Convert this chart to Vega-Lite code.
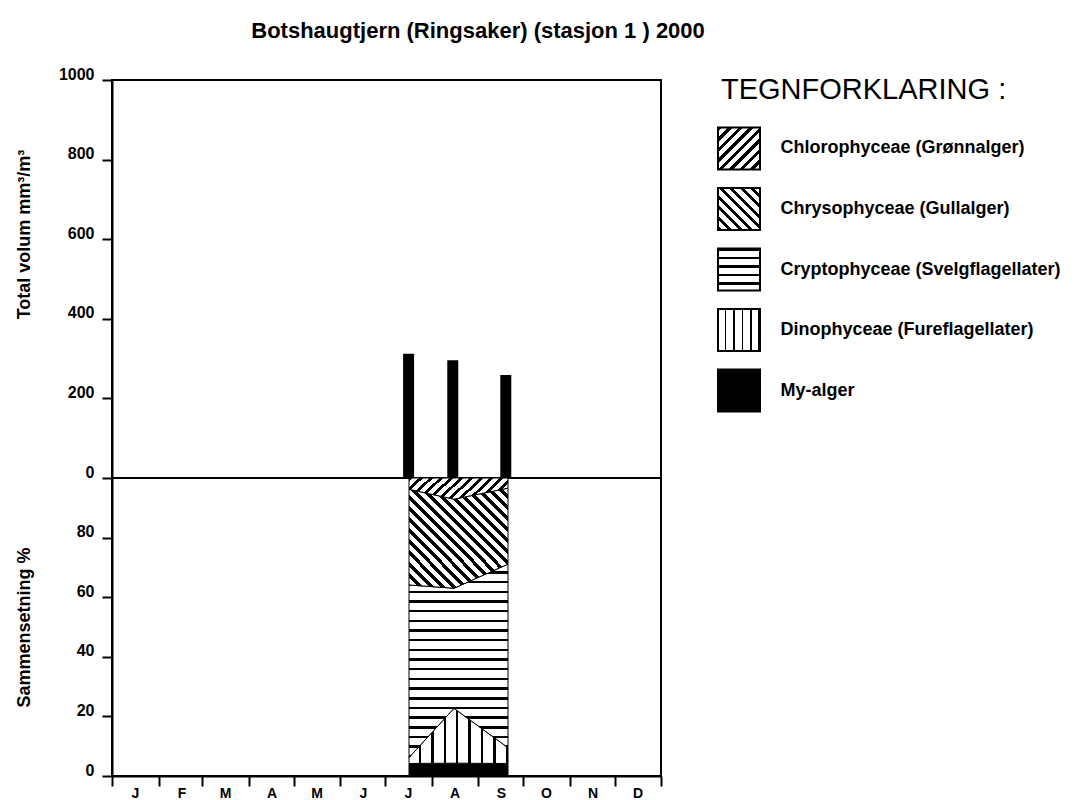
{
  "$schema": "https://vega.github.io/schema/vega-lite/v6.json",
  "padding": {"left": 14, "top": 20, "right": 5, "bottom": 0},
  "title": {"text": "Botshaugtjern (Ringsaker) (stasjon 1 ) 2000", "fontSize": 22, "fontWeight": "bold", "font": "Liberation Sans", "color": "black", "anchor": "middle", "offset": 22, "dx": -59},
  "config": {
    "font": "Liberation Sans",
    "view": {"stroke": "black", "strokeWidth": 2},
    "axis": {"labelFont": "Liberation Sans", "labelFontSize": 16, "labelFontWeight": "bold", "labelColor": "black", "titleFont": "Liberation Sans", "titleFontSize": 18, "titleFontWeight": "bold", "titleColor": "black", "domainColor": "black", "domainWidth": 2, "tickColor": "black", "tickWidth": 2, "tickSize": 10, "grid": false}
  },
  "datasets": {
    "total": [
      {"date": "2000-07-17", "total": 312},
      {"date": "2000-08-16", "total": 296},
      {"date": "2000-09-21", "total": 259}
    ],
    "comp": [
      {"date": "2000-07-17", "group": "My-alger", "k": 1, "pct": 4.2},
      {"date": "2000-07-17", "group": "Dinophyceae (Fureflagellater)", "k": 2, "pct": 2.0},
      {"date": "2000-07-17", "group": "Cryptophyceae (Svelgflagellater)", "k": 3, "pct": 57.9},
      {"date": "2000-07-17", "group": "Chrysophyceae (Gullalger)", "k": 4, "pct": 32.1},
      {"date": "2000-07-17", "group": "Chlorophyceae (Grønnalger)", "k": 5, "pct": 3.8},
      {"date": "2000-08-16", "group": "My-alger", "k": 1, "pct": 4.3},
      {"date": "2000-08-16", "group": "Dinophyceae (Fureflagellater)", "k": 2, "pct": 18.4},
      {"date": "2000-08-16", "group": "Cryptophyceae (Svelgflagellater)", "k": 3, "pct": 40.3},
      {"date": "2000-08-16", "group": "Chrysophyceae (Gullalger)", "k": 4, "pct": 29.9},
      {"date": "2000-08-16", "group": "Chlorophyceae (Grønnalger)", "k": 5, "pct": 7.1},
      {"date": "2000-09-21", "group": "My-alger", "k": 1, "pct": 4.2},
      {"date": "2000-09-21", "group": "Dinophyceae (Fureflagellater)", "k": 2, "pct": 5.3},
      {"date": "2000-09-21", "group": "Cryptophyceae (Svelgflagellater)", "k": 3, "pct": 61.6},
      {"date": "2000-09-21", "group": "Chrysophyceae (Gullalger)", "k": 4, "pct": 25.5},
      {"date": "2000-09-21", "group": "Chlorophyceae (Grønnalger)", "k": 5, "pct": 3.4}
    ],
    "legend": [
      {"group": "Chlorophyceae (Grønnalger)"},
      {"group": "Chrysophyceae (Gullalger)"},
      {"group": "Cryptophyceae (Svelgflagellater)"},
      {"group": "Dinophyceae (Fureflagellater)"},
      {"group": "My-alger"}
    ]
  },
  "spacing": 29,
  "hconcat": [
    {
      "spacing": 0,
      "bounds": "flush",
      "vconcat": [
        {
          "width": 549,
          "height": 398,
          "data": {"name": "total"},
          "mark": {"type": "bar", "color": "black", "width": 11},
          "encoding": {
            "x": {"field": "date", "type": "temporal", "scale": {"type": "utc", "domain": [{"year": 2000, "month": 1, "date": 1, "utc": true}, {"year": 2001, "month": 1, "date": 1, "utc": true}]}, "axis": null},
            "y": {"field": "total", "type": "quantitative", "scale": {"domain": [0, 1000], "nice": false}, "axis": {"values": [0, 200, 400, 600, 800, 1000], "format": "d", "title": "Total volum mm³/m³", "titleY": 154, "minExtent": 60, "maxExtent": 60, "labelPadding": 8, "titlePadding": 19, "labelBaseline": "alphabetic", "labelOffset": -1}}
          }
        },
        {
          "width": 549,
          "height": 298,
          "data": {"name": "comp"},
          "transform": [{"stack": "pct", "groupby": ["date"], "sort": [{"field": "k", "order": "ascending"}], "as": ["lo", "hi"]}],
          "encoding": {
            "x": {"field": "date", "type": "temporal", "scale": {"type": "utc", "domain": [{"year": 2000, "month": 1, "date": 1, "utc": true}, {"year": 2001, "month": 1, "date": 1, "utc": true}]}, "axis": {"tickCount": {"interval": "month", "step": 1}, "labelExpr": "utcyear(datum.value) > 2000 ? '' : slice(utcFormat(datum.value, '%b'), 0, 1)", "labelOffset": 23, "labelPadding": 0, "labelFontSize": 14, "title": null, "labelOverlap": false, "labelFlush": false, "labelBound": false}},
            "y": {"field": "lo", "type": "quantitative", "scale": {"domain": [0, 100], "nice": false}, "axis": {"values": [0, 20, 40, 60, 80], "title": "Sammensetning %", "minExtent": 60, "maxExtent": 60, "labelPadding": 8, "titlePadding": 19, "labelBaseline": "alphabetic", "labelOffset": -1}},
            "y2": {"field": "hi"}
          },
          "layer": [
            {
              "transform": [{"filter": {"field": "group", "equal": "My-alger"}}],
              "mark": {"type": "area", "fill": "#000", "stroke": "#000", "strokeWidth": 1, "opacity": 1}
            },
            {
              "transform": [{"filter": {"field": "group", "equal": "Dinophyceae (Fureflagellater)"}}],
              "mark": {"type": "area", "stroke": "#000", "strokeWidth": 1, "opacity": 1, "fill": {"gradient": "linear", "x1": 0, "y1": 0, "x2": 1, "y2": 0, "stops": [
                {"offset": 0, "color": "#fff"}, {"offset": 0.1, "color": "#fff"}, {"offset": 0.1, "color": "#000"}, {"offset": 0.125, "color": "#000"},
                {"offset": 0.125, "color": "#fff"}, {"offset": 0.225, "color": "#fff"}, {"offset": 0.225, "color": "#000"}, {"offset": 0.25, "color": "#000"},
                {"offset": 0.25, "color": "#fff"}, {"offset": 0.35, "color": "#fff"}, {"offset": 0.35, "color": "#000"}, {"offset": 0.375, "color": "#000"},
                {"offset": 0.375, "color": "#fff"}, {"offset": 0.475, "color": "#fff"}, {"offset": 0.475, "color": "#000"}, {"offset": 0.5, "color": "#000"},
                {"offset": 0.5, "color": "#fff"}, {"offset": 0.6, "color": "#fff"}, {"offset": 0.6, "color": "#000"}, {"offset": 0.625, "color": "#000"},
                {"offset": 0.625, "color": "#fff"}, {"offset": 0.725, "color": "#fff"}, {"offset": 0.725, "color": "#000"}, {"offset": 0.75, "color": "#000"},
                {"offset": 0.75, "color": "#fff"}, {"offset": 0.85, "color": "#fff"}, {"offset": 0.85, "color": "#000"}, {"offset": 0.875, "color": "#000"},
                {"offset": 0.875, "color": "#fff"}, {"offset": 0.975, "color": "#fff"}, {"offset": 0.975, "color": "#000"}, {"offset": 1, "color": "#000"}
              ]}}
            },
            {
              "transform": [{"filter": {"field": "group", "equal": "Cryptophyceae (Svelgflagellater)"}}],
              "mark": {"type": "area", "stroke": "#000", "strokeWidth": 1, "opacity": 1, "fill": {"gradient": "linear", "x1": 0, "y1": 0, "x2": 0, "y2": 1, "stops": [
                {"offset": 0, "color": "#fff"}, {"offset": 0.0375, "color": "#fff"}, {"offset": 0.0375, "color": "#000"}, {"offset": 0.05, "color": "#000"},
                {"offset": 0.05, "color": "#fff"}, {"offset": 0.0875, "color": "#fff"}, {"offset": 0.0875, "color": "#000"}, {"offset": 0.1, "color": "#000"},
                {"offset": 0.1, "color": "#fff"}, {"offset": 0.1375, "color": "#fff"}, {"offset": 0.1375, "color": "#000"}, {"offset": 0.15, "color": "#000"},
                {"offset": 0.15, "color": "#fff"}, {"offset": 0.1875, "color": "#fff"}, {"offset": 0.1875, "color": "#000"}, {"offset": 0.2, "color": "#000"},
                {"offset": 0.2, "color": "#fff"}, {"offset": 0.2375, "color": "#fff"}, {"offset": 0.2375, "color": "#000"}, {"offset": 0.25, "color": "#000"},
                {"offset": 0.25, "color": "#fff"}, {"offset": 0.2875, "color": "#fff"}, {"offset": 0.2875, "color": "#000"}, {"offset": 0.3, "color": "#000"},
                {"offset": 0.3, "color": "#fff"}, {"offset": 0.3375, "color": "#fff"}, {"offset": 0.3375, "color": "#000"}, {"offset": 0.35, "color": "#000"},
                {"offset": 0.35, "color": "#fff"}, {"offset": 0.3875, "color": "#fff"}, {"offset": 0.3875, "color": "#000"}, {"offset": 0.4, "color": "#000"},
                {"offset": 0.4, "color": "#fff"}, {"offset": 0.4375, "color": "#fff"}, {"offset": 0.4375, "color": "#000"}, {"offset": 0.45, "color": "#000"},
                {"offset": 0.45, "color": "#fff"}, {"offset": 0.4875, "color": "#fff"}, {"offset": 0.4875, "color": "#000"}, {"offset": 0.5, "color": "#000"},
                {"offset": 0.5, "color": "#fff"}, {"offset": 0.5375, "color": "#fff"}, {"offset": 0.5375, "color": "#000"}, {"offset": 0.55, "color": "#000"},
                {"offset": 0.55, "color": "#fff"}, {"offset": 0.5875, "color": "#fff"}, {"offset": 0.5875, "color": "#000"}, {"offset": 0.6, "color": "#000"},
                {"offset": 0.6, "color": "#fff"}, {"offset": 0.6375, "color": "#fff"}, {"offset": 0.6375, "color": "#000"}, {"offset": 0.65, "color": "#000"},
                {"offset": 0.65, "color": "#fff"}, {"offset": 0.6875, "color": "#fff"}, {"offset": 0.6875, "color": "#000"}, {"offset": 0.7, "color": "#000"},
                {"offset": 0.7, "color": "#fff"}, {"offset": 0.7375, "color": "#fff"}, {"offset": 0.7375, "color": "#000"}, {"offset": 0.75, "color": "#000"},
                {"offset": 0.75, "color": "#fff"}, {"offset": 0.7875, "color": "#fff"}, {"offset": 0.7875, "color": "#000"}, {"offset": 0.8, "color": "#000"},
                {"offset": 0.8, "color": "#fff"}, {"offset": 0.8375, "color": "#fff"}, {"offset": 0.8375, "color": "#000"}, {"offset": 0.85, "color": "#000"},
                {"offset": 0.85, "color": "#fff"}, {"offset": 0.8875, "color": "#fff"}, {"offset": 0.8875, "color": "#000"}, {"offset": 0.9, "color": "#000"},
                {"offset": 0.9, "color": "#fff"}, {"offset": 0.9375, "color": "#fff"}, {"offset": 0.9375, "color": "#000"}, {"offset": 0.95, "color": "#000"},
                {"offset": 0.95, "color": "#fff"}, {"offset": 0.9875, "color": "#fff"}, {"offset": 0.9875, "color": "#000"}, {"offset": 1, "color": "#000"}
              ]}}
            },
            {
              "transform": [{"filter": {"field": "group", "equal": "Chrysophyceae (Gullalger)"}}],
              "mark": {"type": "area", "stroke": "#000", "strokeWidth": 1, "opacity": 1, "fill": {"gradient": "linear", "x1": 0, "y1": 1, "x2": 1, "y2": 0, "stops": [
                {"offset": 0, "color": "#000"}, {"offset": 0.025, "color": "#000"}, {"offset": 0.025, "color": "#fff"}, {"offset": 0.0556, "color": "#fff"},
                {"offset": 0.0556, "color": "#000"}, {"offset": 0.0806, "color": "#000"}, {"offset": 0.0806, "color": "#fff"}, {"offset": 0.1111, "color": "#fff"},
                {"offset": 0.1111, "color": "#000"}, {"offset": 0.1361, "color": "#000"}, {"offset": 0.1361, "color": "#fff"}, {"offset": 0.1667, "color": "#fff"},
                {"offset": 0.1667, "color": "#000"}, {"offset": 0.1917, "color": "#000"}, {"offset": 0.1917, "color": "#fff"}, {"offset": 0.2222, "color": "#fff"},
                {"offset": 0.2222, "color": "#000"}, {"offset": 0.2472, "color": "#000"}, {"offset": 0.2472, "color": "#fff"}, {"offset": 0.2778, "color": "#fff"},
                {"offset": 0.2778, "color": "#000"}, {"offset": 0.3028, "color": "#000"}, {"offset": 0.3028, "color": "#fff"}, {"offset": 0.3333, "color": "#fff"},
                {"offset": 0.3333, "color": "#000"}, {"offset": 0.3583, "color": "#000"}, {"offset": 0.3583, "color": "#fff"}, {"offset": 0.3889, "color": "#fff"},
                {"offset": 0.3889, "color": "#000"}, {"offset": 0.4139, "color": "#000"}, {"offset": 0.4139, "color": "#fff"}, {"offset": 0.4444, "color": "#fff"},
                {"offset": 0.4444, "color": "#000"}, {"offset": 0.4694, "color": "#000"}, {"offset": 0.4694, "color": "#fff"}, {"offset": 0.5, "color": "#fff"},
                {"offset": 0.5, "color": "#000"}, {"offset": 0.525, "color": "#000"}, {"offset": 0.525, "color": "#fff"}, {"offset": 0.5556, "color": "#fff"},
                {"offset": 0.5556, "color": "#000"}, {"offset": 0.5806, "color": "#000"}, {"offset": 0.5806, "color": "#fff"}, {"offset": 0.6111, "color": "#fff"},
                {"offset": 0.6111, "color": "#000"}, {"offset": 0.6361, "color": "#000"}, {"offset": 0.6361, "color": "#fff"}, {"offset": 0.6667, "color": "#fff"},
                {"offset": 0.6667, "color": "#000"}, {"offset": 0.6917, "color": "#000"}, {"offset": 0.6917, "color": "#fff"}, {"offset": 0.7222, "color": "#fff"},
                {"offset": 0.7222, "color": "#000"}, {"offset": 0.7472, "color": "#000"}, {"offset": 0.7472, "color": "#fff"}, {"offset": 0.7778, "color": "#fff"},
                {"offset": 0.7778, "color": "#000"}, {"offset": 0.8028, "color": "#000"}, {"offset": 0.8028, "color": "#fff"}, {"offset": 0.8333, "color": "#fff"},
                {"offset": 0.8333, "color": "#000"}, {"offset": 0.8583, "color": "#000"}, {"offset": 0.8583, "color": "#fff"}, {"offset": 0.8889, "color": "#fff"},
                {"offset": 0.8889, "color": "#000"}, {"offset": 0.9139, "color": "#000"}, {"offset": 0.9139, "color": "#fff"}, {"offset": 0.9444, "color": "#fff"},
                {"offset": 0.9444, "color": "#000"}, {"offset": 0.9694, "color": "#000"}, {"offset": 0.9694, "color": "#fff"}, {"offset": 1, "color": "#fff"}
              ]}}
            },
            {
              "transform": [{"filter": {"field": "group", "equal": "Chlorophyceae (Grønnalger)"}}],
              "mark": {"type": "area", "stroke": "#000", "strokeWidth": 1, "opacity": 1, "fill": {"gradient": "linear", "x1": 0, "y1": 0, "x2": 1.16, "y2": 0.25, "stops": [
                {"offset": 0, "color": "#000"}, {"offset": 0.0333, "color": "#000"}, {"offset": 0.0333, "color": "#fff"}, {"offset": 0.0833, "color": "#fff"},
                {"offset": 0.0833, "color": "#000"}, {"offset": 0.1167, "color": "#000"}, {"offset": 0.1167, "color": "#fff"}, {"offset": 0.1667, "color": "#fff"},
                {"offset": 0.1667, "color": "#000"}, {"offset": 0.2, "color": "#000"}, {"offset": 0.2, "color": "#fff"}, {"offset": 0.25, "color": "#fff"},
                {"offset": 0.25, "color": "#000"}, {"offset": 0.2833, "color": "#000"}, {"offset": 0.2833, "color": "#fff"}, {"offset": 0.3333, "color": "#fff"},
                {"offset": 0.3333, "color": "#000"}, {"offset": 0.3667, "color": "#000"}, {"offset": 0.3667, "color": "#fff"}, {"offset": 0.4167, "color": "#fff"},
                {"offset": 0.4167, "color": "#000"}, {"offset": 0.45, "color": "#000"}, {"offset": 0.45, "color": "#fff"}, {"offset": 0.5, "color": "#fff"},
                {"offset": 0.5, "color": "#000"}, {"offset": 0.5333, "color": "#000"}, {"offset": 0.5333, "color": "#fff"}, {"offset": 0.5833, "color": "#fff"},
                {"offset": 0.5833, "color": "#000"}, {"offset": 0.6167, "color": "#000"}, {"offset": 0.6167, "color": "#fff"}, {"offset": 0.6667, "color": "#fff"},
                {"offset": 0.6667, "color": "#000"}, {"offset": 0.7, "color": "#000"}, {"offset": 0.7, "color": "#fff"}, {"offset": 0.75, "color": "#fff"},
                {"offset": 0.75, "color": "#000"}, {"offset": 0.7833, "color": "#000"}, {"offset": 0.7833, "color": "#fff"}, {"offset": 0.8333, "color": "#fff"},
                {"offset": 0.8333, "color": "#000"}, {"offset": 0.8667, "color": "#000"}, {"offset": 0.8667, "color": "#fff"}, {"offset": 0.9167, "color": "#fff"},
                {"offset": 0.9167, "color": "#000"}, {"offset": 0.95, "color": "#000"}, {"offset": 0.95, "color": "#fff"}, {"offset": 1, "color": "#fff"}
              ]}}
            }
          ]
        }
      ]
    },
    {
      "width": 44,
      "height": 379,
      "view": {"stroke": null},
      "title": {"text": "TEGNFORKLARING :", "anchor": "start", "fontSize": 29, "fontWeight": "normal", "font": "Liberation Sans", "color": "black", "offset": -25, "dx": 7},
      "data": {"name": "legend"},
      "encoding": {
        "y": {"field": "group", "type": "nominal", "sort": null, "scale": {"type": "band", "domain": ["Chlorophyceae (Grønnalger)", "Chrysophyceae (Gullalger)", "Cryptophyceae (Svelgflagellater)", "Dinophyceae (Fureflagellater)", "My-alger"], "paddingInner": 0, "paddingOuter": 0.632}, "axis": {"orient": "right", "title": null, "domain": false, "ticks": false, "labelPadding": 19, "labelFontSize": 18, "labelLimit": 400}}
      },
      "layer": [
        {
          "transform": [{"filter": {"field": "group", "equal": "Chlorophyceae (Grønnalger)"}}],
          "mark": {"type": "point", "shape": "square", "size": 1764, "filled": true, "stroke": "#000", "strokeWidth": 2, "opacity": 1, "fill": {"gradient": "linear", "x1": 0, "y1": 0, "x2": 1, "y2": 1, "stops": [
            {"offset": 0, "color": "#000"}, {"offset": 0.05, "color": "#000"}, {"offset": 0.05, "color": "#fff"}, {"offset": 0.125, "color": "#fff"},
            {"offset": 0.125, "color": "#000"}, {"offset": 0.175, "color": "#000"}, {"offset": 0.175, "color": "#fff"}, {"offset": 0.25, "color": "#fff"},
            {"offset": 0.25, "color": "#000"}, {"offset": 0.3, "color": "#000"}, {"offset": 0.3, "color": "#fff"}, {"offset": 0.375, "color": "#fff"},
            {"offset": 0.375, "color": "#000"}, {"offset": 0.425, "color": "#000"}, {"offset": 0.425, "color": "#fff"}, {"offset": 0.5, "color": "#fff"},
            {"offset": 0.5, "color": "#000"}, {"offset": 0.55, "color": "#000"}, {"offset": 0.55, "color": "#fff"}, {"offset": 0.625, "color": "#fff"},
            {"offset": 0.625, "color": "#000"}, {"offset": 0.675, "color": "#000"}, {"offset": 0.675, "color": "#fff"}, {"offset": 0.75, "color": "#fff"},
            {"offset": 0.75, "color": "#000"}, {"offset": 0.8, "color": "#000"}, {"offset": 0.8, "color": "#fff"}, {"offset": 0.875, "color": "#fff"},
            {"offset": 0.875, "color": "#000"}, {"offset": 0.925, "color": "#000"}, {"offset": 0.925, "color": "#fff"}, {"offset": 1, "color": "#fff"}
          ]}}
        },
        {
          "transform": [{"filter": {"field": "group", "equal": "Chrysophyceae (Gullalger)"}}],
          "mark": {"type": "point", "shape": "square", "size": 1764, "filled": true, "stroke": "#000", "strokeWidth": 2, "opacity": 1, "fill": {"gradient": "linear", "x1": 0, "y1": 1, "x2": 1, "y2": 0, "stops": [
            {"offset": 0, "color": "#000"}, {"offset": 0.05, "color": "#000"}, {"offset": 0.05, "color": "#fff"}, {"offset": 0.125, "color": "#fff"},
            {"offset": 0.125, "color": "#000"}, {"offset": 0.175, "color": "#000"}, {"offset": 0.175, "color": "#fff"}, {"offset": 0.25, "color": "#fff"},
            {"offset": 0.25, "color": "#000"}, {"offset": 0.3, "color": "#000"}, {"offset": 0.3, "color": "#fff"}, {"offset": 0.375, "color": "#fff"},
            {"offset": 0.375, "color": "#000"}, {"offset": 0.425, "color": "#000"}, {"offset": 0.425, "color": "#fff"}, {"offset": 0.5, "color": "#fff"},
            {"offset": 0.5, "color": "#000"}, {"offset": 0.55, "color": "#000"}, {"offset": 0.55, "color": "#fff"}, {"offset": 0.625, "color": "#fff"},
            {"offset": 0.625, "color": "#000"}, {"offset": 0.675, "color": "#000"}, {"offset": 0.675, "color": "#fff"}, {"offset": 0.75, "color": "#fff"},
            {"offset": 0.75, "color": "#000"}, {"offset": 0.8, "color": "#000"}, {"offset": 0.8, "color": "#fff"}, {"offset": 0.875, "color": "#fff"},
            {"offset": 0.875, "color": "#000"}, {"offset": 0.925, "color": "#000"}, {"offset": 0.925, "color": "#fff"}, {"offset": 1, "color": "#fff"}
          ]}}
        },
        {
          "transform": [{"filter": {"field": "group", "equal": "Cryptophyceae (Svelgflagellater)"}}],
          "mark": {"type": "point", "shape": "square", "size": 1764, "filled": true, "stroke": "#000", "strokeWidth": 2, "opacity": 1, "fill": {"gradient": "linear", "x1": 0, "y1": 0, "x2": 0, "y2": 1, "stops": [
            {"offset": 0, "color": "#000"}, {"offset": 0.06, "color": "#000"}, {"offset": 0.06, "color": "#fff"}, {"offset": 0.2, "color": "#fff"},
            {"offset": 0.2, "color": "#000"}, {"offset": 0.26, "color": "#000"}, {"offset": 0.26, "color": "#fff"}, {"offset": 0.4, "color": "#fff"},
            {"offset": 0.4, "color": "#000"}, {"offset": 0.46, "color": "#000"}, {"offset": 0.46, "color": "#fff"}, {"offset": 0.6, "color": "#fff"},
            {"offset": 0.6, "color": "#000"}, {"offset": 0.66, "color": "#000"}, {"offset": 0.66, "color": "#fff"}, {"offset": 0.8, "color": "#fff"},
            {"offset": 0.8, "color": "#000"}, {"offset": 0.86, "color": "#000"}, {"offset": 0.86, "color": "#fff"}, {"offset": 1, "color": "#fff"}
          ]}}
        },
        {
          "transform": [{"filter": {"field": "group", "equal": "Dinophyceae (Fureflagellater)"}}],
          "mark": {"type": "point", "shape": "square", "size": 1764, "filled": true, "stroke": "#000", "strokeWidth": 2, "opacity": 1, "fill": {"gradient": "linear", "x1": 0, "y1": 0, "x2": 1, "y2": 0, "stops": [
            {"offset": 0, "color": "#fff"}, {"offset": 0.16, "color": "#fff"}, {"offset": 0.16, "color": "#000"}, {"offset": 0.2, "color": "#000"},
            {"offset": 0.2, "color": "#fff"}, {"offset": 0.36, "color": "#fff"}, {"offset": 0.36, "color": "#000"}, {"offset": 0.4, "color": "#000"},
            {"offset": 0.4, "color": "#fff"}, {"offset": 0.56, "color": "#fff"}, {"offset": 0.56, "color": "#000"}, {"offset": 0.6, "color": "#000"},
            {"offset": 0.6, "color": "#fff"}, {"offset": 0.76, "color": "#fff"}, {"offset": 0.76, "color": "#000"}, {"offset": 0.8, "color": "#000"},
            {"offset": 0.8, "color": "#fff"}, {"offset": 0.96, "color": "#fff"}, {"offset": 0.96, "color": "#000"}, {"offset": 1, "color": "#000"}
          ]}}
        },
        {
          "transform": [{"filter": {"field": "group", "equal": "My-alger"}}],
          "mark": {"type": "point", "shape": "square", "size": 1764, "filled": true, "fill": "#000", "stroke": "#000", "strokeWidth": 2, "opacity": 1}
        }
      ]
    }
  ]
}
